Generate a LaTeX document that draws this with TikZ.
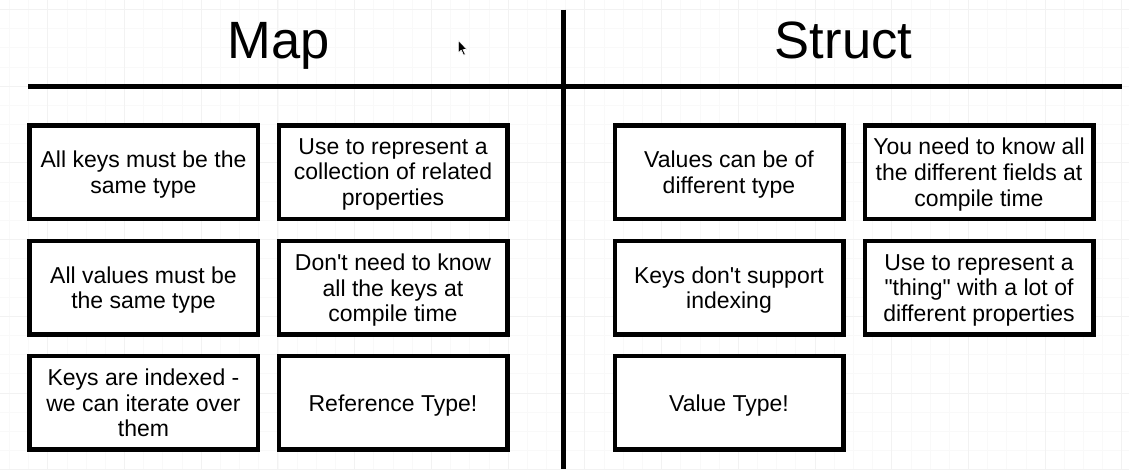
\documentclass[tikz,border=0pt]{standalone}
\usepackage{fontspec}
\setmainfont{Liberation Sans}[Ligatures=TeXOff]
\begin{document}
\begin{tikzpicture}[x=1pt,y=-1pt,
  card/.style={draw=black,line width=4.5pt,fill=white,minimum width=228.5pt,minimum height=93.5pt,
    align=center,inner sep=0pt,text depth=0pt,font=\fontsize{23}{25.7}\selectfont},
  title/.style={font=\fontsize{52.5}{60}\selectfont,inner sep=0pt,anchor=base},
  divider/.style={line width=5pt,black},
  minorgrid/.style={line width=0.6pt,black!2.5},
  majorgrid/.style={line width=0.8pt,black!5}]
\useasboundingbox (0,0) rectangle (1129,469);
\fill[white] (0,0) rectangle (1129,469);
% background grid
\foreach \i in {0,...,59} {
  \draw[minorgrid] ({9.34+19.18*\i},0) -- ({9.34+19.18*\i},469);
}
\foreach \i in {0,...,25} {
  \draw[minorgrid] (0,{9.3-19.18+19.18*\i}) -- (1129,{9.3-19.18+19.18*\i});
}
\foreach \i in {0,...,14} {
  \draw[majorgrid] ({47.7+76.72*\i},0) -- ({47.7+76.72*\i},469);
}
\foreach \i in {0,...,6} {
  \draw[majorgrid] (0,{9.3+76.72*\i}) -- (1129,{9.3+76.72*\i});
}
% titles
\node[title] (map) at (279,58.3) {Map};
\node[title] (struct) at (843.5,58.3) {Struct};
% dividers
\coordinate (hl) at (28,86);
\coordinate (hr) at (1122,86);
\coordinate (vt) at (563,9.5);
\coordinate (vb) at (563,469);
\draw[divider] (hl) -- (hr);
\draw[divider] (vt) -- (vb);
% Map cards
\node[card] (m11) at (143.5,172) {All keys must be the\\same type};
\node[card] (m12) at (393,172) {Use to represent a\\collection of related\\properties};
\node[card] (m21) at (143.5,287.8) {All values must be\\the same type};
\node[card] (m22) at (393,287.8) {Don't need to know\\all the keys at\\compile time};
\node[card] (m31) at (143.5,402.8) {Keys are indexed -\\we can iterate over\\them};
\node[card] (m32) at (393,402.8) {Reference Type!};
% Struct cards
\node[card] (s11) at (729,172) {Values can be of\\different type};
\node[card] (s12) at (979,172) {You need to know all\\the different fields at\\compile time};
\node[card] (s21) at (729,287.8) {Keys don't support\\indexing};
\node[card] (s22) at (979,287.8) {Use to represent a\\"thing" with a lot of\\different properties};
\node[card] (s31) at (729,402.8) {Value Type!};
% mouse cursor
\fill[black,draw=white,line width=0.6pt,line join=round]
  (458.3,40.5) -- (458.3,53) -- (461.2,50.2) -- (463.6,55.2) -- (465.3,54.4) -- (463,49.6) -- (467,49.4) -- cycle;
\end{tikzpicture}
\end{document}
